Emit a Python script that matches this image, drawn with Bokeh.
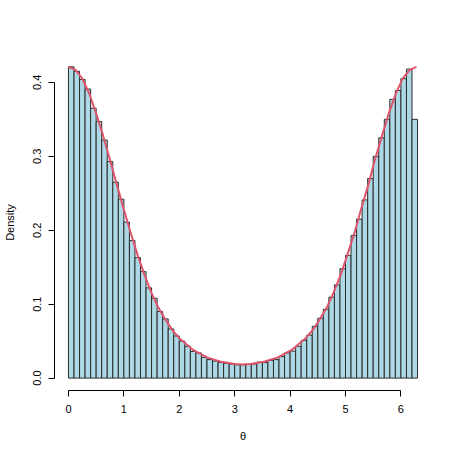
import numpy as np
from bokeh.plotting import figure
from bokeh.models import Range1d, FixedTicker
from bokeh.embed import file_html
from bokeh.resources import INLINE

# Histogram bin edges (width 0.1 from 0 to 6.3)
breaks = np.round(np.linspace(0.0, 6.3, 64), 2)

# Density of each bin
density = [
    0.421, 0.415, 0.404, 0.391, 0.365, 0.347, 0.322, 0.293, 0.265, 0.242,
    0.211, 0.186, 0.163, 0.144, 0.122, 0.108, 0.090, 0.080, 0.0665, 0.057,
    0.050, 0.043, 0.036, 0.034, 0.028, 0.025, 0.023, 0.021, 0.020, 0.019,
    0.018, 0.018, 0.0185, 0.019, 0.0215, 0.021, 0.024, 0.025, 0.029, 0.034,
    0.0365, 0.043, 0.051, 0.058, 0.070, 0.081, 0.093, 0.1095, 0.126, 0.148,
    0.166, 0.193, 0.215, 0.241, 0.270, 0.300, 0.325, 0.350, 0.377, 0.389,
    0.405, 0.418, 0.350,
]

# Fitted density curve
curve_theta = [
    0.0, 0.125, 0.25, 0.375, 0.5, 0.625, 0.75, 0.875, 1.0, 1.125, 1.25,
    1.375, 1.5, 1.625, 1.75, 1.875, 2.0, 2.25, 2.5, 2.75, 3.0, 3.14,
    3.28, 3.53, 3.78, 4.03, 4.28, 4.41, 4.53, 4.66, 4.78, 4.91, 5.03,
    5.16, 5.28, 5.41, 5.53, 5.66, 5.78, 5.91, 6.03, 6.16, 6.28,
]
curve_density = [
    0.421, 0.417, 0.405, 0.385, 0.358, 0.328, 0.295, 0.261, 0.228, 0.196, 0.166,
    0.139, 0.115, 0.095, 0.079, 0.065, 0.054, 0.038, 0.028, 0.022, 0.019, 0.0185,
    0.019, 0.022, 0.028, 0.038, 0.054, 0.065, 0.079, 0.095, 0.115, 0.139, 0.166,
    0.196, 0.228, 0.261, 0.295, 0.328, 0.358, 0.385, 0.405, 0.417, 0.421,
]

x_ticks = [0, 1, 2, 3, 4, 5, 6]
y_ticks = [0.0, 0.1, 0.2, 0.3, 0.4]
y_tick_labels = {0.0: "0.0", 0.1: "0.1", 0.2: "0.2", 0.3: "0.3", 0.4: "0.4"}

FONT = "Liberation Sans"

p = figure(
    width=449, height=449,
    frame_width=377, frame_height=336,
    min_border_left=53, min_border_right=19,
    min_border_top=54, min_border_bottom=59,
    x_range=Range1d(-0.252, 6.552), y_range=Range1d(-0.0168, 0.4377),
    output_backend="svg", toolbar_location=None,
    background_fill_color="white", border_fill_color="white",
)
p.outline_line_color = None
p.grid.visible = False

p.quad(left=breaks[:-1], right=breaks[1:], bottom=0, top=density,
       fill_color="#ADD8E6", line_color="#2b2b2b", line_width=1)

p.line(curve_theta, curve_density, line_color="#DF536B", line_width=2)

for ax in (p.xaxis[0], p.yaxis[0]):
    ax.major_tick_in = 0
    ax.major_tick_out = 6
    ax.minor_tick_line_color = None
    ax.axis_line_color = "black"
    ax.major_tick_line_color = "black"
    ax.major_label_text_font = FONT
    ax.major_label_text_font_size = "11px"
    ax.major_label_text_color = "black"
    ax.axis_label_text_font = FONT
    ax.axis_label_text_font_size = "11px"
    ax.axis_label_text_font_style = "normal"
    ax.axis_label_text_color = "black"

p.xaxis.ticker = FixedTicker(ticks=x_ticks)
p.xaxis.bounds = (0, 6)
p.xaxis.axis_label = "θ"
p.xaxis.major_label_standoff = 8
p.xaxis.axis_label_standoff = 14

p.yaxis.ticker = FixedTicker(ticks=y_ticks)
p.yaxis.bounds = (0, 0.4)
p.yaxis.major_label_overrides = y_tick_labels
p.yaxis.major_label_orientation = "vertical"
p.yaxis.axis_label = "Density"
p.yaxis.major_label_standoff = 7
p.yaxis.axis_label_standoff = 15

open("out.html", "w").write(file_html(p, INLINE))
